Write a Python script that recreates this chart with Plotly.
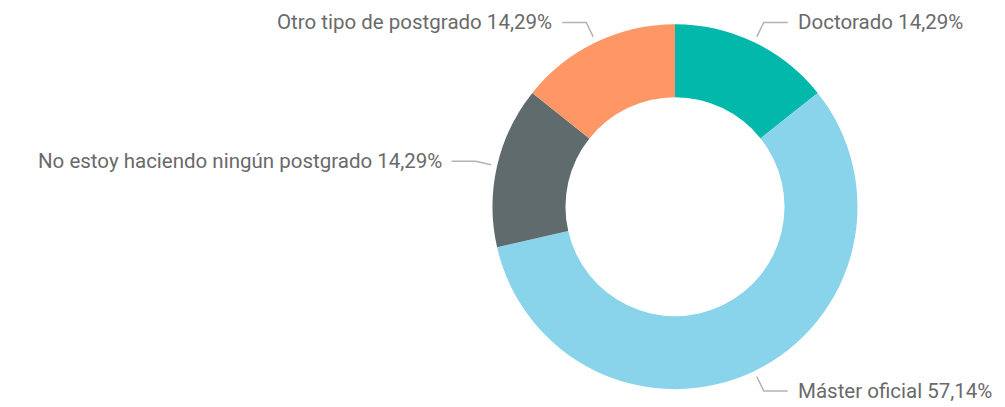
import math
import plotly.graph_objects as go

categories = ["Doctorado", "Máster oficial", "No estoy haciendo ningún postgrado", "Otro tipo de postgrado"]
values = [1, 4, 1, 1]
colors = ["#01B8AA", "#8AD4EB", "#5F6B6D", "#FE9666"]

# The page body has an 8px margin, so the figure is drawn 8px in from the window edge.
OFF = 8
W, H = 1005 - OFF, 407 - OFF
cx, cy = 675.0 - OFF, 206.7 - OFF   # pixel centre (from top of figure)
R = 182.5
hole = 0.6

fig = go.Figure(go.Pie(
    labels=categories, values=values,
    marker=dict(colors=colors, line=dict(width=0)),
    hole=hole, sort=False, direction="clockwise", rotation=0,
    textinfo="none", hoverinfo="label+percent", showlegend=False,
    domain=dict(x=[(cx - R) / W, (cx + R) / W],
                y=[(H - cy - R) / H, (H - cy + R) / H]),
))

total = sum(values)
shapes, annotations = [], []
cum = 0
for cat, v in zip(categories, values):
    theta = (cum + v / 2) / total * 2 * math.pi
    cum += v
    s, c = math.sin(theta), math.cos(theta)
    x1, y1 = cx + (R + 6) * s, cy - (R + 6) * c
    x2, y2 = cx + (R + 22) * s, cy - (R + 22) * c
    sign = 1 if s >= 0 else -1
    x3 = x2 + sign * 24
    pct = f"{v / total * 100:.2f}".replace(".", ",")
    shapes.append(dict(
        type="path", xref="paper", yref="paper",
        path=f"M {x1 / W} {1 - y1 / H} L {x2 / W} {1 - y2 / H} L {x3 / W} {1 - y2 / H}",
        line=dict(color="#B3B3B3", width=1.5),
    ))
    annotations.append(dict(
        x=(x3 + sign * 8) / W, y=1 - y2 / H, xref="paper", yref="paper",
        text=f"{cat} {pct}%", showarrow=False,
        xanchor="left" if sign > 0 else "right", yanchor="middle",
        font=dict(family="Roboto", size=20.5, color="#6A6A6A"),
    ))

fig.update_layout(
    width=W, height=H,
    margin=dict(l=0, r=0, t=0, b=0),
    paper_bgcolor="white", plot_bgcolor="white",
    shapes=shapes, annotations=annotations,
)
fig.write_html("out.html")
